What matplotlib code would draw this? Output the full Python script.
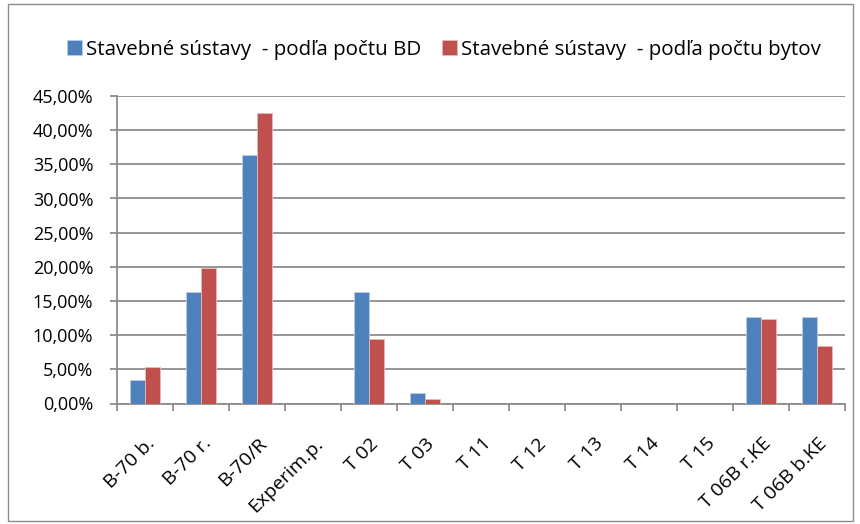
import matplotlib.pyplot as plt
import matplotlib.transforms as mtransforms
import numpy as np
from matplotlib.ticker import FuncFormatter, FixedLocator
from matplotlib.patches import Rectangle

categories = ["B-70 b.", "B-70 r.", "B-70/R", "Experim.p.", "T 02", "T 03", "T 11",
              "T 12", "T 13", "T 14", "T 15", "T 06B r.KE", "T 06B b.KE"]
bd = [3.4, 16.3, 36.4, 0, 16.3, 1.6, 0, 0, 0, 0, 0, 12.7, 12.7]
byty = [5.3, 19.8, 42.5, 0, 9.5, 0.7, 0, 0, 0, 0, 0, 12.3, 8.4]
labels = ["Stavebné sústavy  - podľa počtu BD", "Stavebné sústavy  - podľa počtu bytov"]

plt.rcParams['font.family'] = ['Open Sans', 'DejaVu Sans']

fig = plt.figure(figsize=(8.6, 5.24), dpi=100)
ax = fig.add_axes([117 / 860, 1 - 403.5 / 524, 728 / 860, 307.5 / 524])

x = np.arange(len(categories))
w = 0.27
ax.bar(x - w / 2, bd, w, color="#4F81BD", edgecolor="#B9CDE5", linewidth=0.6, label=labels[0], zorder=3)
ax.bar(x + w / 2, byty, w, color="#C0504D", edgecolor="#E6B9B8", linewidth=0.6, label=labels[1], zorder=3)

ax.set_xlim(-0.5, len(categories) - 0.5)
ax.set_ylim(0, 45)
ax.set_yticks(np.arange(0, 46, 5))
ax.yaxis.set_major_formatter(FuncFormatter(lambda v, p: f"{v:.2f}".replace(".", ",") + "%"))
ax.grid(axis="y", color="#8c8c8c", linewidth=1.3, zorder=0)

ax.set_xticks(x)
ax.set_xticklabels(categories, rotation=45, ha="right", va="center", rotation_mode="anchor")
ax.tick_params(axis="x", which="major", length=0, pad=27, labelsize=14)
shift = mtransforms.ScaledTranslation(7 / 100, 0, fig.dpi_scale_trans)
for lab in ax.get_xticklabels():
    lab.set_transform(lab.get_transform() + shift)
ax.xaxis.set_minor_locator(FixedLocator(np.arange(-0.5, len(categories), 1)))
ax.tick_params(axis="x", which="minor", length=5, color="#8c8c8c", width=1.3)
ax.tick_params(axis="y", length=5, color="#8c8c8c", width=1.3, labelsize=13, pad=12)

for s in ["top", "right"]:
    ax.spines[s].set_visible(False)
for s in ["left", "bottom"]:
    ax.spines[s].set_color("#8c8c8c")
    ax.spines[s].set_linewidth(1.3)

ax.legend(loc="center", bbox_to_anchor=(444 / 860, 1 - 50 / 524), bbox_transform=fig.transFigure,
          ncol=2, frameon=False, fontsize=14.75, handlelength=0.75, handleheight=0.75,
          handletextpad=0.2, columnspacing=1.0)

fig.patches.append(Rectangle((8 / 860, 3 / 524), 845 / 860, 517 / 524, transform=fig.transFigure,
                             fill=False, edgecolor="#8c8c8c", linewidth=1))

fig.savefig("out.png", dpi=100)
